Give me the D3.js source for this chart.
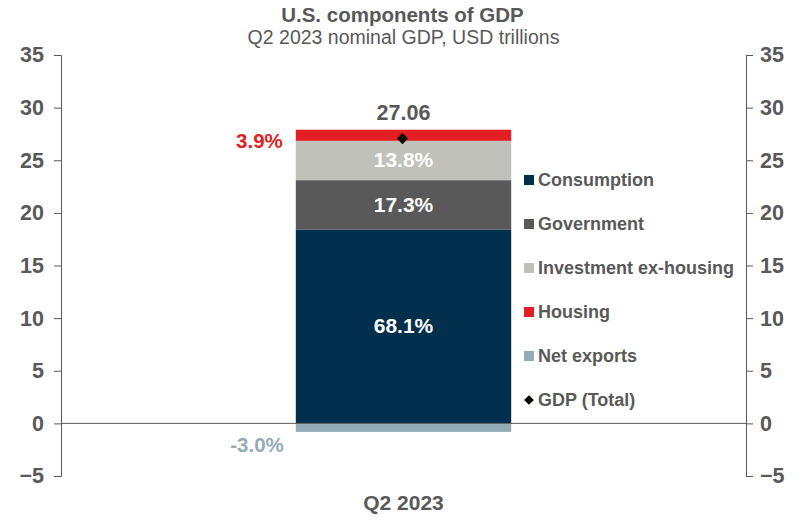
<!DOCTYPE html>
<html>
<head>
<meta charset="utf-8">
<script src="https://cdn.jsdelivr.net/npm/d3@7"></script>
<style>
  body { margin: 0; background: #fff; }
  text { font-family: "Liberation Sans", Arial, sans-serif; }
</style>
</head>
<body>
<svg id="chart"></svg>
<script>
// data
const period = ["Q2 2023"]
const components = ["Consumption", "Government", "Investment ex-housing", "Housing", "Net exports"]
const shares = [68.1, 17.3, 13.8, 3.9, -3.0]   // % of GDP
const gdpTotal = 27.06                          // USD trillions
const compColors = ["#022f4c", "#595959", "#c0c1b8", "#e31e24", "#94abb8"]
const yTicks = [-5, 0, 5, 10, 15, 20, 25, 30, 35]

const W = 807, H = 520
const margin = {top: 55, right: 61, bottom: 44, left: 61}
const innerW = W - margin.left - margin.right
const innerH = H - margin.top - margin.bottom
const grey = "#595959"

const svg = d3.select("#chart").attr("width", W).attr("height", H)

// title
svg.append("text").attr("x", W / 2 - 1).attr("y", 22).attr("text-anchor", "middle")
    .attr("font-size", 20.5).attr("font-weight", "bold").attr("fill", grey)
    .text("U.S. components of GDP")
svg.append("text").attr("x", W / 2).attr("y", 44).attr("text-anchor", "middle")
    .attr("font-size", 19.5).attr("fill", grey)
    .text("Q2 2023 nominal GDP, USD trillions")

const g = svg.append("g").attr("transform", "translate(" + margin.left + "," + margin.top + ")")

const y = d3.scaleLinear().domain([-5, 35]).range([innerH, 0])
const x = d3.scaleBand().domain(period).range([0, innerW]).paddingInner(0).paddingOuter(1.09)

// axes
function styleAxis(sel) {
    sel.selectAll("path, line").attr("stroke", grey)
    sel.selectAll("text").attr("fill", grey).attr("font-size", 21.5).attr("font-weight", "bold")
        .attr("font-family", "Liberation Sans, Arial, sans-serif")
}
g.append("g")
    .call(d3.axisLeft(y).tickValues(yTicks).tickSize(7).tickPadding(10))
    .call(styleAxis)
g.append("g")
    .attr("transform", "translate(" + innerW + ",0)")
    .call(d3.axisRight(y).tickValues(yTicks).tickSize(7).tickPadding(7))
    .call(styleAxis)

// stacked values in trillions
const values = shares.map(s => s / 100 * gdpTotal)
let posBase = 0, negBase = 0
const stacks = values.map((v, i) => {
    let y0, y1
    if (v >= 0) { y0 = posBase; y1 = posBase + v; posBase = y1 }
    else { y0 = negBase + v; y1 = negBase; negBase = y0 }
    return {name: components[i], share: shares[i], y0: y0, y1: y1, color: compColors[i]}
})

const bx = x(period[0]), bw = x.bandwidth()
g.selectAll("rect.seg")
    .data(stacks)
    .enter()
    .append("rect")
    .attr("class", "seg")
    .attr("x", bx)
    .attr("width", bw)
    .attr("y", d => y(d.y1))
    .attr("height", d => y(d.y0) - y(d.y1))
    .attr("fill", d => d.color)

// zero line
g.append("line")
    .attr("x1", 0).attr("x2", innerW)
    .attr("y1", y(0)).attr("y2", y(0))
    .attr("stroke", grey).attr("stroke-width", 1)

// inside labels (white) for the big segments
g.selectAll("text.inlab")
    .data(stacks.filter(d => d.share > 10))
    .enter()
    .append("text")
    .attr("class", "inlab")
    .attr("x", bx + bw / 2)
    .attr("y", d => y((d.y0 + d.y1) / 2) + 7)
    .attr("text-anchor", "middle")
    .attr("font-size", 21).attr("font-weight", "bold").attr("fill", "#fff")
    .text(d => d.share.toFixed(1) + "%")

// outside labels for the thin segments
const housing = stacks[3], netx = stacks[4]
g.append("text")
    .attr("x", bx - 13).attr("y", y((housing.y0 + housing.y1) / 2) + 13)
    .attr("text-anchor", "end")
    .attr("font-size", 20.5).attr("font-weight", "bold").attr("fill", housing.color)
    .text(housing.share.toFixed(1) + "%")
g.append("text")
    .attr("x", bx - 12).attr("y", y(netx.y0) + 20)
    .attr("text-anchor", "end")
    .attr("font-size", 20.5).attr("font-weight", "bold").attr("fill", netx.color)
    .text(netx.share.toFixed(1) + "%")

// GDP total marker
g.append("path")
    .attr("d", d3.symbol().type(d3.symbolDiamond2).size(80))
    .attr("transform", "translate(" + (bx + bw / 2 - 1) + "," + y(gdpTotal) + ")")
    .attr("fill", "#000")
g.append("text")
    .attr("x", bx + bw / 2).attr("y", y(housing.y1) - 10)
    .attr("text-anchor", "middle")
    .attr("font-size", 21.5).attr("font-weight", "bold").attr("fill", grey)
    .text(gdpTotal.toFixed(2))

// category label
g.append("text")
    .attr("x", bx + bw / 2).attr("y", innerH + 34)
    .attr("text-anchor", "middle")
    .attr("font-size", 21).attr("font-weight", "bold").attr("fill", grey)
    .text(period[0])

// legend
const legendItems = components.map((c, i) => ({name: c, color: compColors[i], type: "square"}))
legendItems.push({name: "GDP (Total)", color: "#000", type: "diamond"})
const leg = svg.append("g").attr("transform", "translate(524,179)")
const item = leg.selectAll("g")
    .data(legendItems)
    .enter()
    .append("g")
    .attr("transform", (d, i) => "translate(0," + (i * 44) + ")")
item.filter(d => d.type === "square").append("rect")
    .attr("x", 0).attr("y", -4).attr("width", 10).attr("height", 10)
    .attr("fill", d => d.color)
item.filter(d => d.type === "diamond").append("path")
    .attr("d", d3.symbol().type(d3.symbolDiamond2).size(60))
    .attr("transform", "translate(5,1)")
    .attr("fill", "#000")
item.append("text")
    .attr("x", 14).attr("y", 7)
    .attr("font-size", 18).attr("font-weight", "bold").attr("fill", grey)
    .text(d => d.name)
</script>
</body>
</html>
